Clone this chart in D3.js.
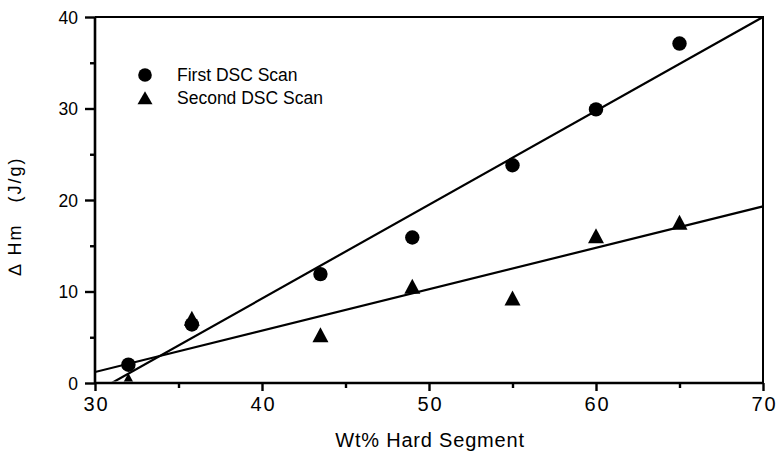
<!DOCTYPE html>
<html>
<head>
<meta charset="utf-8">
<script src="https://cdn.jsdelivr.net/npm/d3@7"></script>
<style>
  html, body { margin: 0; padding: 0; background: #fff; }
  svg { display: block; font-family: "Liberation Sans", Arial, Helvetica, sans-serif; }
</style>
</head>
<body>
<svg id="chart" width="778" height="452"></svg>
<script>
// ---- data ----
const wtPercent   = [32, 35.8, 43.5, 49, 55, 60, 65];
const firstScan   = [2, 6.4, 11.9, 15.9, 23.8, 29.9, 37.1];
const secondScan  = [0.2, 7.0, 5.2, 10.5, 9.2, 16.0, 17.5];
const fitFirstX   = [31.0, 70];
const fitFirstY   = [0, 40];
const fitSecondX  = [30, 70];
const fitSecondY  = [1.2, 19.3];
const xMajorTicks = [30, 40, 50, 60, 70];
const xMinorTicks = [35, 45, 55, 65];
const yMajorTicks = [0, 10, 20, 30, 40];
const yMinorTicks = [5, 15, 25, 35];
const legendLabels = ["First DSC Scan", "Second DSC Scan"];
const xTitle = "Wt% Hard Segment";
const yTitle = "\u2206 Hm   (J/g)";

// ---- layout ----
const W = 778, H = 452;
const margin = { left: 95, top: 17, right: 15, bottom: 69 };
const svg = d3.select("#chart");
const x = d3.scaleLinear().domain([30, 70]).range([margin.left, W - margin.right]);
const y = d3.scaleLinear().domain([0, 40]).range([H - margin.bottom, margin.top]);

svg.append("defs").append("clipPath").attr("id", "plotclip")
  .append("rect")
  .attr("x", x(30)).attr("y", y(40) - 10)
  .attr("width", x(70) - x(30) + 10).attr("height", y(0) - y(40) + 10 - 1.5);

// frame top & right
svg.append("path")
  .attr("d", `M${x(30)},${y(40)}H${x(70)}V${y(0)}`)
  .attr("fill", "none").attr("stroke", "#000").attr("stroke-width", 2);

// fit lines
const lineGen = d3.line().x(d => x(d[0])).y(d => y(d[1]));
const g = svg.append("g").attr("clip-path", "url(#plotclip)");
g.append("path").datum(d3.zip(fitFirstX, fitFirstY)).attr("d", lineGen)
  .attr("fill", "none").attr("stroke", "#000").attr("stroke-width", 2.2);
g.append("path").datum(d3.zip(fitSecondX, fitSecondY)).attr("d", lineGen)
  .attr("fill", "none").attr("stroke", "#000").attr("stroke-width", 2.2);

// triangle path generator (width w, height h, centred)
function tri(cx, cy, w, h) {
  return `M${cx},${cy - h * 0.55}L${cx + w / 2},${cy + h * 0.45}L${cx - w / 2},${cy + h * 0.45}Z`;
}

// markers
g.selectAll("path.tri").data(d3.zip(wtPercent, secondScan)).join("path")
  .attr("class", "tri")
  .attr("d", d => tri(x(d[0]), y(d[1]), 16, 15))
  .attr("fill", "#000");
g.selectAll("circle.pt").data(d3.zip(wtPercent, firstScan)).join("circle")
  .attr("class", "pt")
  .attr("cx", d => x(d[0])).attr("cy", d => y(d[1])).attr("r", 7.2)
  .attr("fill", "#000");

// axes
const xAxis = svg.append("g").attr("transform", `translate(0,${y(0)})`)
  .call(d3.axisBottom(x).tickValues(xMajorTicks).tickSize(8).tickFormat(d3.format("d")));
svg.append("g").attr("transform", `translate(0,${y(0)})`)
  .call(d3.axisBottom(x).tickValues(xMinorTicks).tickSize(5).tickFormat(""))
  .call(a => a.select(".domain").remove());
const yAxis = svg.append("g").attr("transform", `translate(${x(30)},0)`)
  .call(d3.axisLeft(y).tickValues(yMajorTicks).tickSize(10).tickFormat(d3.format("d")));
svg.append("g").attr("transform", `translate(${x(30)},0)`)
  .call(d3.axisLeft(y).tickValues(yMinorTicks).tickSize(5).tickFormat(""))
  .call(a => a.select(".domain").remove());

svg.selectAll(".domain").attr("stroke-width", 2.6).attr("stroke", "#000");
svg.selectAll(".tick line").attr("stroke-width", 2.4).attr("stroke", "#000");

xAxis.selectAll(".tick text")
  .attr("font-size", 20).attr("font-family", "Liberation Sans, Arial, sans-serif")
  .attr("letter-spacing", "2px").attr("dx", "1px")
  .attr("y", 14).attr("dy", "0.71em").attr("fill", "#000");
xAxis.select(".domain").attr("d", `M${x(30)},0H${x(70)}`);
yAxis.selectAll(".tick text")
  .attr("font-size", 17.5).attr("font-family", "Liberation Sans, Arial, sans-serif")
  .attr("x", -17).attr("dy", "0.36em").attr("fill", "#000");
yAxis.select(".domain").attr("d", `M0,${y(0)}V${y(40)}`);

// axis titles
svg.append("text")
  .attr("x", 430).attr("y", 447)
  .attr("text-anchor", "middle").attr("font-size", 20).attr("letter-spacing", "0.8px")
  .attr("fill", "#000")
  .text(xTitle);
svg.append("text")
  .attr("transform", `translate(21,216) rotate(-90)`)
  .attr("text-anchor", "middle")
  .style("font-size", "18px")
  .style("letter-spacing", "2px")
  .style("white-space", "pre")
  .attr("fill", "#000")
  .text(yTitle);

// legend
const leg = svg.append("g");
leg.append("circle").attr("cx", 145).attr("cy", 75).attr("r", 6.8).attr("fill", "#000");
leg.append("path").attr("d", tri(145, 98.5, 15, 13)).attr("fill", "#000");
leg.selectAll("text").data(legendLabels).join("text")
  .attr("x", 177).attr("y", (d, i) => 81 + i * 23)
  .attr("font-size", 17.5).attr("fill", "#000")
  .text(d => d);
</script>
</body>
</html>
